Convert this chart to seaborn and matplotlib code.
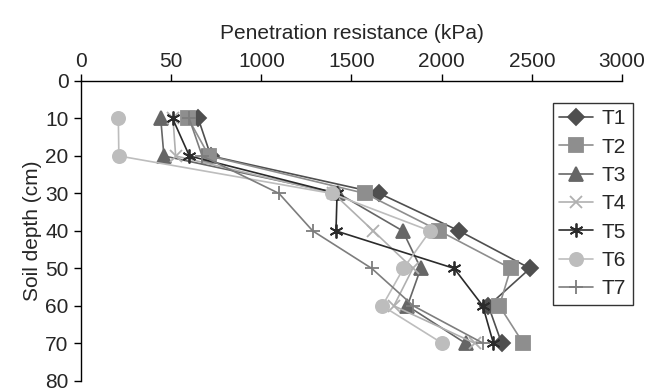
import matplotlib
matplotlib.use("Agg")
import matplotlib.pyplot as plt
import pandas as pd
import seaborn as sns

# soil depth (cm) and penetration resistance (kPa) per treatment
depth = [10, 20, 30, 40, 50, 60, 70]
T1 = [650, 720, 1655, 2097, 2490, 2259, 2333]
T2 = [595, 710, 1575, 1987, 2383, 2320, 2453]
T3 = [442, 460, 1427, 1784, 1884, 1810, 2133]
T4 = [510, 525, 1400, 1621, 1840, 1735, 2185]
T5 = [508, 601, 1420, 1414, 2069, 2228, 2287]
T6 = [207, 210, 1390, 1936, 1788, 1671, 2004]
T7 = [600, 672, 1098, 1285, 1612, 1843, 2231]

treatments = ["T1", "T2", "T3", "T4", "T5", "T6", "T7"]
x_ticks = [0, 500, 1000, 1500, 2000, 2500, 3000]
x_ticklabels = ["0", "50", "1000", "1500", "2000", "2500", "3000"]
y_ticks = [0, 10, 20, 30, 40, 50, 60, 70, 80]

series = dict(zip(treatments, [T1, T2, T3, T4, T5, T6, T7]))
df = pd.DataFrame(
    [(t, d, v) for t, vals in series.items() for d, v in zip(depth, vals)],
    columns=["treatment", "depth", "kpa"],
)

palette = {
    "T1": "#4f4f4f",
    "T2": "#8e8e8e",
    "T3": "#666666",
    "T4": "#b0b0b0",
    "T5": "#2b2b2b",
    "T6": "#bdbdbd",
    "T7": "#7d7d7d",
}
markers = {
    "T1": "D",
    "T2": "s",
    "T3": "^",
    "T4": "x",
    "T5": (6, 2, 0),
    "T6": "o",
    "T7": "+",
}
sizes = {"T1": 8.5, "T2": 9.5, "T3": 9.5, "T4": 9, "T5": 10, "T6": 9.5, "T7": 10}
FS = 15

sns.set_style("white")
plt.rcParams["font.family"] = ["Liberation Sans", "DejaVu Sans"]

fig = plt.figure(figsize=(6.49, 3.92), dpi=100)
ax = fig.add_axes([0.1248, 0.0285, 0.8336, 0.7649])

for t in treatments:
    sub = df[df["treatment"] == t]
    sns.lineplot(
        data=sub, x="kpa", y="depth", sort=False, estimator=None,
        color=palette[t], marker=markers[t], markersize=sizes[t],
        markeredgecolor=palette[t], markeredgewidth=1.3,
        linewidth=1.2, label=t, ax=ax,
    )

ax.set_xlim(0, 3000)
ax.set_ylim(80, 0)
ax.xaxis.tick_top()
ax.xaxis.set_label_position("top")
ax.set_xticks(x_ticks)
ax.set_xticklabels(x_ticklabels)
ax.set_yticks(y_ticks)
ax.set_xlabel("Penetration resistance (kPa)", fontsize=FS, labelpad=9)
ax.set_ylabel("Soil depth (cm)", fontsize=FS, labelpad=2)
ax.tick_params(axis="both", labelsize=FS, length=5, width=1, color="black",
               direction="out", top=True, left=True, bottom=False, right=False)
ax.tick_params(axis="x", pad=2.5)
ax.tick_params(axis="y", pad=4)

for side in ["right", "bottom"]:
    ax.spines[side].set_visible(False)
for side in ["top", "left"]:
    ax.spines[side].set_color("black")
    ax.spines[side].set_linewidth(1)

leg = ax.legend(
    loc="upper left", bbox_to_anchor=(553 / 649, 1 - 103 / 392),
    bbox_transform=fig.transFigure, frameon=True, fancybox=False,
    fontsize=FS, handlelength=1.6, borderpad=0.3, labelspacing=0.45,
    handletextpad=0.45, borderaxespad=0,
)
leg.get_frame().set_edgecolor("black")
leg.get_frame().set_linewidth(1)

fig.savefig("out.png", dpi=100)
